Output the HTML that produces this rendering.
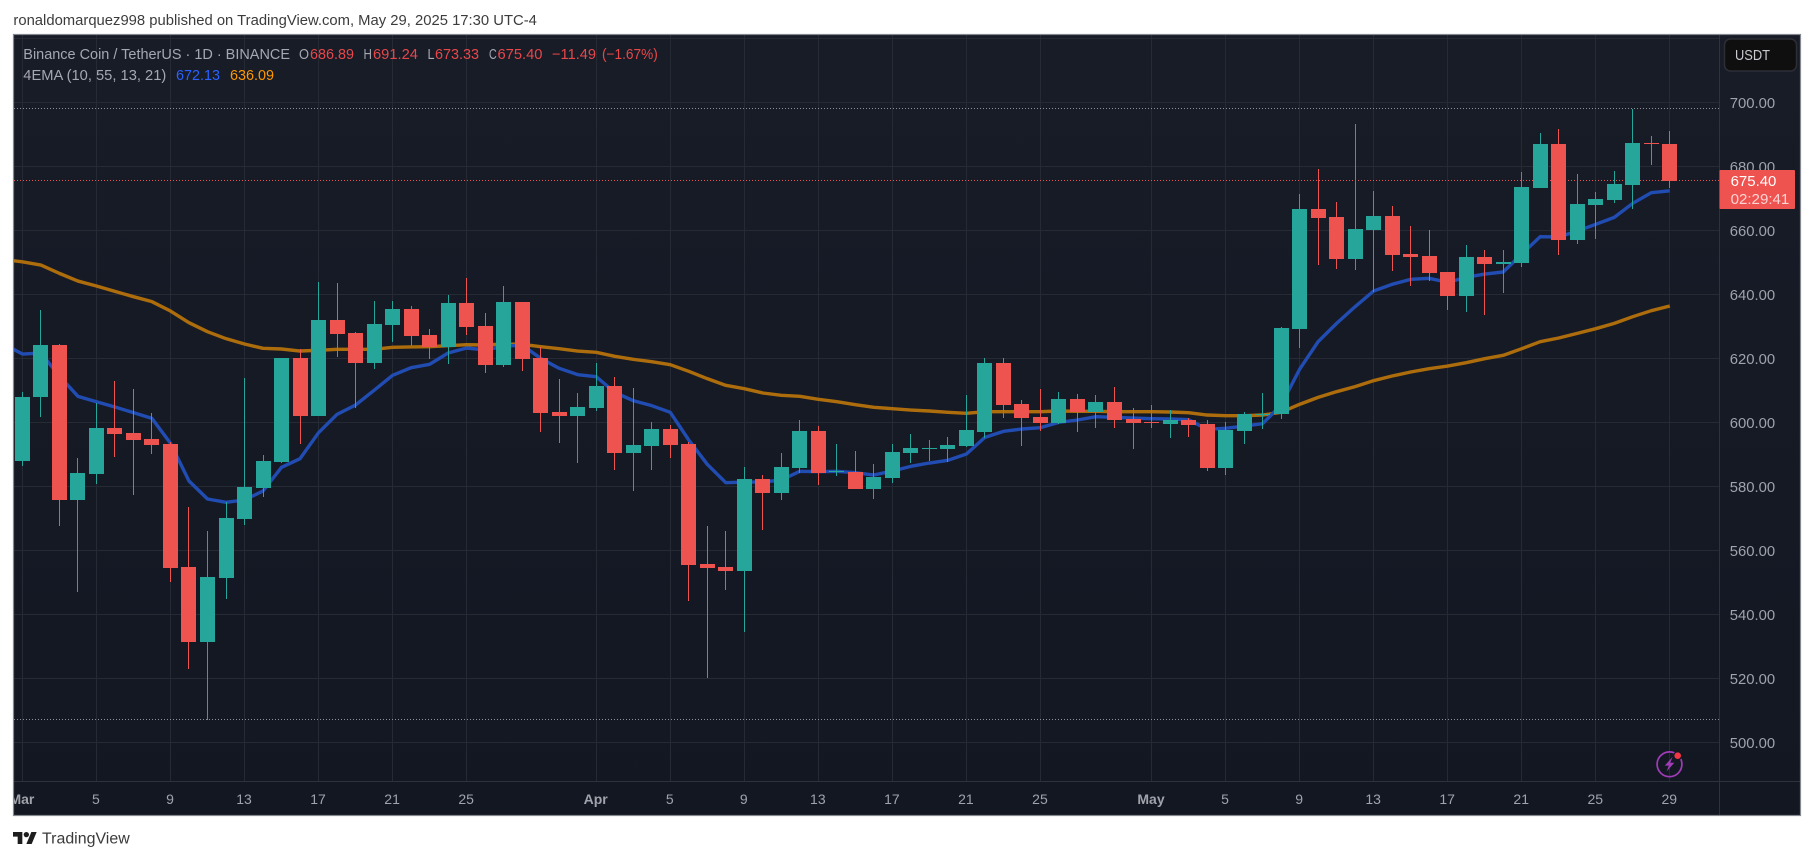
<!DOCTYPE html>
<html lang="en">
<head>
<meta charset="utf-8">
<title>BNB / USDT 1D chart</title>
<style>
html,body{margin:0;padding:0;background:#fff;width:1814px;height:860px;overflow:hidden}
svg{display:block;font-family:"Liberation Sans",Arial,sans-serif}
</style>
</head>
<body>
<svg id="chart" width="1814" height="860" viewBox="0 0 1814 860" xmlns="http://www.w3.org/2000/svg">
  <defs>
    <linearGradient id="panelFill" x1="0" y1="0" x2="0" y2="1">
      <stop offset="0" stop-color="#181c27"/>
      <stop offset="1" stop-color="#131722"/>
    </linearGradient>
    <clipPath id="plotClip"><rect x="14" y="35" width="1705" height="746"/></clipPath>
    <clipPath id="timeClip"><rect x="14" y="782" width="1705" height="33"/></clipPath>
  </defs>

  <text x="13.4" y="25" font-size="14.5" fill="#3c3c3c" textLength="523.5" lengthAdjust="spacingAndGlyphs">ronaldomarquez998 published on TradingView.com, May 29, 2025 17:30 UTC-4</text>

  <rect x="13.5" y="34.5" width="1787" height="781" fill="url(#panelFill)"/>

  <g id="grid"></g>
  <g id="plot" clip-path="url(#plotClip)">
    <g id="refLines"></g>
    <path id="emaSlow" fill="none" stroke="#ad6d0c" stroke-width="3.4" stroke-linejoin="round"/>
    <path id="emaFast" fill="none" stroke="#214cb2" stroke-width="3.4" stroke-linejoin="round"/>
    <g id="candles" shape-rendering="crispEdges"></g>
  </g>

  <line x1="14" y1="781.5" x2="1800" y2="781.5" stroke="#2e323d"/>
  <line x1="1719.5" y1="35" x2="1719.5" y2="815" stroke="#2e323d"/>
  <g id="priceAxis"></g>
  <g id="timeAxis" clip-path="url(#timeClip)"></g>

  <g>
    <rect x="1724.5" y="39" width="72" height="32" rx="6" fill="#0f0f10" stroke="#2c2f36" stroke-width="1.5"/>
    <text x="1735" y="60" font-size="15" fill="#c9cbd1" textLength="35" lengthAdjust="spacingAndGlyphs">USDT</text>
  </g>

  <g id="priceTag">
    <rect id="priceTagBox" x="1719.5" y="170" width="75.5" height="39" rx="1" fill="#ef5350"/>
    <text id="priceTagValue" x="1730.6" y="186" font-size="14.5" fill="#ffffff" textLength="45.8" lengthAdjust="spacingAndGlyphs">675.40</text>
    <text x="1730.6" y="204" font-size="14.5" fill="#fbd5d4" textLength="58.7" lengthAdjust="spacingAndGlyphs">02:29:41</text>
  </g>

  <g font-size="14.5">
    <text x="23.3" y="59" fill="#a5a8b1" textLength="266.7" lengthAdjust="spacingAndGlyphs">Binance Coin / TetherUS · 1D · BINANCE</text>
    <text x="299" y="59" fill="#a5a8b1" textLength="10" lengthAdjust="spacingAndGlyphs">O</text>
    <text x="310" y="59" fill="#e8474a" textLength="44" lengthAdjust="spacingAndGlyphs">686.89</text>
    <text x="363.5" y="59" fill="#a5a8b1" textLength="8.4" lengthAdjust="spacingAndGlyphs">H</text>
    <text x="373" y="59" fill="#e8474a" textLength="45" lengthAdjust="spacingAndGlyphs">691.24</text>
    <text x="427.5" y="59" fill="#a5a8b1" textLength="7" lengthAdjust="spacingAndGlyphs">L</text>
    <text x="435" y="59" fill="#e8474a" textLength="44" lengthAdjust="spacingAndGlyphs">673.33</text>
    <text x="489" y="59" fill="#a5a8b1" textLength="7.7" lengthAdjust="spacingAndGlyphs">C</text>
    <text x="497.5" y="59" fill="#e8474a" textLength="45" lengthAdjust="spacingAndGlyphs">675.40</text>
    <text x="552" y="59" fill="#e8474a" textLength="44" lengthAdjust="spacingAndGlyphs">−11.49</text>
    <text x="602" y="59" fill="#e8474a" textLength="55.8" lengthAdjust="spacingAndGlyphs">(−1.67%)</text>
    <text x="23.3" y="80" fill="#a5a8b1" textLength="143" lengthAdjust="spacingAndGlyphs">4EMA (10, 55, 13, 21)</text>
    <text x="176" y="80" fill="#2962ff" textLength="44" lengthAdjust="spacingAndGlyphs">672.13</text>
    <text x="230" y="80" fill="#ff9800" textLength="44" lengthAdjust="spacingAndGlyphs">636.09</text>
  </g>

  <g>
    <circle cx="1669.5" cy="764.3" r="12.4" fill="none" stroke="#a03cb8" stroke-width="1.7"/>
    <path d="M1672.5 757 L1664.8 765.6 L1668.8 765.6 L1666.6 771.5 L1674.3 762.8 L1670.3 762.8 Z" fill="#a03cb8"/>
    <circle cx="1677.7" cy="755.7" r="4.6" fill="#131722"/>
    <circle cx="1677.7" cy="755.7" r="3.3" fill="#f23645"/>
  </g>

  <rect x="13.5" y="34.5" width="1787" height="781" fill="none" stroke="#85888f" stroke-width="1.2"/>

  <g>
    <g transform="translate(13 829.3) scale(.667)" fill="#1e1e1e">
      <path d="M14 22H7V11H0V4h14v18zM28 22h-8l7.5-18h8L28 22z"/>
      <circle cx="20" cy="8" r="4"/>
    </g>
    <text x="42" y="843.3" font-size="15.5" fill="#3a3a3a" textLength="87.7" lengthAdjust="spacingAndGlyphs">TradingView</text>
  </g>
</svg>

<script>
const dates = [
"Mar 1","Mar 2","Mar 3","Mar 4","Mar 5","Mar 6","Mar 7","Mar 8","Mar 9","Mar 10",
"Mar 11","Mar 12","Mar 13","Mar 14","Mar 15","Mar 16","Mar 17","Mar 18","Mar 19","Mar 20",
"Mar 21","Mar 22","Mar 23","Mar 24","Mar 25","Mar 26","Mar 27","Mar 28","Mar 29","Mar 30",
"Mar 31","Apr 1","Apr 2","Apr 3","Apr 4","Apr 5","Apr 6","Apr 7","Apr 8","Apr 9",
"Apr 10","Apr 11","Apr 12","Apr 13","Apr 14","Apr 15","Apr 16","Apr 17","Apr 18","Apr 19",
"Apr 20","Apr 21","Apr 22","Apr 23","Apr 24","Apr 25","Apr 26","Apr 27","Apr 28","Apr 29",
"Apr 30","May 1","May 2","May 3","May 4","May 5","May 6","May 7","May 8","May 9",
"May 10","May 11","May 12","May 13","May 14","May 15","May 16","May 17","May 18","May 19",
"May 20","May 21","May 22","May 23","May 24","May 25","May 26","May 27","May 28","May 29"
];
const opens = [
587.97,607.97,624.22,575.88,584.01,598.28,596.70,594.84,593.28,554.84,
531.50,551.50,569.84,579.53,587.66,620.15,602.13,632.03,627.97,618.70,
630.57,635.47,627.34,623.70,637.34,630.15,618.07,637.66,620.15,603.28,
602.13,604.53,611.40,590.57,592.76,597.97,593.28,555.78,554.84,553.59,
582.34,577.97,585.78,597.34,584.53,584.53,579.22,582.66,590.47,591.70,
591.70,592.66,597.03,618.59,605.78,601.72,599.84,607.34,603.28,606.41,
601.09,600.16,599.53,600.78,599.53,585.88,597.34,602.30,602.65,629.21,
666.72,664.22,651.09,660.16,664.53,652.65,652.03,647.03,639.63,651.72,
649.53,649.84,673.28,687.03,657.03,667.97,669.53,674.22,687.34,686.89
];
const closes = [
607.97,624.22,575.88,584.22,598.28,596.51,594.63,593.07,554.63,531.50,
551.71,570.15,579.84,587.97,620.15,602.13,632.03,627.76,618.70,630.78,
635.47,627.13,623.70,637.34,629.95,618.07,637.66,619.95,603.07,602.13,
604.84,611.40,590.57,592.97,597.97,593.07,555.47,554.53,553.59,582.34,
577.97,586.09,597.34,584.22,584.84,579.22,582.97,590.78,592.03,592.03,
592.97,597.66,618.59,605.47,601.40,599.84,607.34,603.28,606.41,600.78,
599.84,599.84,600.78,599.22,585.88,597.65,602.65,602.65,629.52,666.72,
663.91,651.09,660.47,664.53,652.34,651.72,646.72,639.63,651.72,649.53,
650.16,673.59,687.03,657.03,668.28,669.84,674.53,687.34,687.03,675.40
];
const highs = [
609.53,635.16,624.50,588.90,605.99,612.97,610.47,602.86,593.90,573.59,
566.09,575.15,613.90,589.84,620.30,622.86,643.90,643.59,628.28,637.97,
637.97,636.41,629.22,639.84,645.26,634.22,642.66,637.66,623.70,613.59,
609.22,618.59,614.22,610.78,600.16,599.22,593.90,567.66,566.09,586.09,
583.59,590.47,600.78,598.90,593.28,591.09,587.03,593.28,596.41,594.53,
595.47,608.59,620.15,620.15,607.03,610.47,609.53,608.90,608.59,611.09,
604.53,605.47,603.90,601.40,600.77,600.15,603.28,609.20,629.80,671.41,
679.22,668.91,693.28,672.34,667.66,661.41,660.16,647.10,655.47,653.91,
653.91,678.28,690.47,691.72,677.66,672.03,678.59,697.86,689.53,691.24
];
const lows = [
586.51,601.80,567.76,547.13,580.88,589.33,577.45,590.26,550.25,523.07,
507.00,544.94,567.97,576.72,587.50,593.38,602.00,620.47,604.63,616.82,
625.16,624.01,619.84,618.38,627.45,615.57,617.45,616.20,597.13,593.70,
587.45,603.50,585.16,578.70,585.16,589.01,544.21,520.25,547.65,534.53,
566.51,575.78,584.22,580.47,583.28,579.10,576.09,581.09,587.34,587.97,
587.66,592.50,595.16,601.40,592.66,597.34,599.53,597.03,598.28,598.28,
591.72,598.28,595.16,595.47,584.84,583.59,593.27,597.95,601.09,623.28,
649.22,647.97,647.66,640.90,647.34,642.66,644.22,635.15,634.52,633.59,
640.57,648.59,673.20,652.34,655.78,657.34,668.59,666.72,680.47,673.33
];
const emaFast = [
621.40,621.70,614.50,608.18,606.50,604.84,603.07,601.30,593.50,581.72,
576.09,575.05,575.78,578.59,585.99,588.70,596.82,602.55,605.47,610.05,
614.74,617.13,618.18,621.72,623.28,622.66,623.80,624.20,620.05,616.93,
614.95,614.32,609.42,606.82,605.26,603.18,594.53,586.93,581.20,581.40,
581.40,582.03,584.74,584.64,584.74,584.32,583.59,584.84,586.30,587.34,
588.18,590.16,595.36,597.24,597.97,598.39,600.05,600.78,601.82,601.61,
601.40,601.20,601.09,600.88,597.86,598.17,598.90,599.63,605.46,616.61,
625.25,630.98,636.20,641.09,643.18,644.74,645.05,643.80,645.36,646.40,
647.03,652.65,658.07,657.97,659.84,661.93,664.11,668.49,671.82,672.40
];
const emaSlow = [
650.20,649.20,646.60,644.20,642.66,640.99,639.32,637.76,634.84,631.20,
628.38,626.20,624.53,623.18,622.97,622.34,622.55,622.86,622.86,622.86,
623.49,623.60,623.70,624.00,624.32,624.22,624.53,624.43,623.70,623.07,
622.34,621.93,620.68,619.74,619.01,618.07,615.99,613.70,611.61,610.57,
609.22,608.49,608.18,607.24,606.51,605.57,604.74,604.32,603.90,603.59,
603.18,602.86,603.38,603.38,603.38,603.38,603.59,603.49,603.49,603.38,
603.38,603.38,603.28,603.07,602.34,602.13,602.13,602.34,603.17,605.67,
607.86,609.63,611.20,613.07,614.53,615.78,616.82,617.65,618.69,619.94,
620.98,623.07,625.25,626.40,627.86,629.32,630.98,633.07,634.94,636.40
];
const emaFastPrior = 624.5;
const emaSlowPrior = 650.9;
const priceTicks = [720,700,680,660,640,620,600,580,560,540,520,500];
const labelledPriceTicks = [700,680,660,640,620,600,580,560,540,520,500];
const timeTickDates = ["Mar 1","Mar 5","Mar 9","Mar 13","Mar 17","Mar 21","Mar 25","Apr 1","Apr 5","Apr 9","Apr 13","Apr 17","Apr 21","Apr 25","May 1","May 5","May 9","May 13","May 17","May 21","May 25","May 29"];
const timeTickLabels = ["Mar","5","9","13","17","21","25","Apr","5","9","13","17","21","25","May","5","9","13","17","21","25","29"];

const NS = "http://www.w3.org/2000/svg";
function xAt(index){ return 22.4 + 18.51 * index; }
function xOf(date){ return xAt(dates.indexOf(date)); }
function yOf(price){ return 742.5 - (price - 500) * 3.2; }
function make(tag, parent){ const el = document.createElementNS(NS, tag); parent.appendChild(el); return el; }

const gridGroup = document.getElementById("grid");
priceTicks.forEach(function(p){
  const line = make("line", gridGroup);
  
  
  const gy = Math.floor(yOf(p)) + 0.5;
  line.setAttribute("x1", 14); line.setAttribute("x2", 1719);
  line.setAttribute("y1", gy); line.setAttribute("y2", gy);
  line.setAttribute("stroke", "#262a35");
});
timeTickDates.forEach(function(d){
  const line = make("line", gridGroup);
  
  
  const gx = Math.floor(xOf(d)) + 0.5;
  line.setAttribute("x1", gx); line.setAttribute("x2", gx);
  line.setAttribute("y1", 35); line.setAttribute("y2", 781);
  line.setAttribute("stroke", "#262a35");
});

const priceAxis = document.getElementById("priceAxis");
labelledPriceTicks.forEach(function(p){
  const t = make("text", priceAxis);
  
  
  t.setAttribute("x", 1729.8);
  t.setAttribute("y", Math.round(yOf(p)) + 5);
  t.setAttribute("font-size", "14.5");
  t.setAttribute("fill", "#a0a3ab");
  t.setAttribute("textLength", "45.4");
  t.setAttribute("lengthAdjust", "spacingAndGlyphs");
  t.textContent = p.toFixed(2);
});

const timeAxis = document.getElementById("timeAxis");
timeTickDates.forEach(function(d, k){
  const t = make("text", timeAxis);
  
  
  const isMonth = isNaN(Number(timeTickLabels[k]));
  t.setAttribute("x", xOf(d) - 0.5);
  t.setAttribute("y", 804);
  t.setAttribute("text-anchor", "middle");
  t.setAttribute("font-size", "14");
  t.setAttribute("fill", "#a0a3ab");
  if (isMonth) t.setAttribute("font-weight", "700");
  t.textContent = timeTickLabels[k];
});

function linePath(values, prior){
  let d = "M" + xAt(-1) + " " + yOf(prior).toFixed(2);
  values.forEach(function(v, i){ d += " L" + xAt(i).toFixed(2) + " " + yOf(v).toFixed(2); });
  return d;
}
document.getElementById("emaSlow").setAttribute("d", linePath(emaSlow, emaSlowPrior));
document.getElementById("emaFast").setAttribute("d", linePath(emaFast, emaFastPrior));

const candleGroup = document.getElementById("candles");
dates.forEach(function(d, i){
  const up = closes[i] >= opens[i];
  const color = up ? "#26a69a" : "#ef5350";
  const left = Math.round(xAt(i) - 7.5);
  const g = make("g", candleGroup);
  
  
  const wick = make("rect", g);
  
  
  const wTop = Math.round(yOf(highs[i]));
  const wBot = Math.round(yOf(lows[i]));
  wick.setAttribute("x", left + 7);
  wick.setAttribute("y", wTop);
  wick.setAttribute("width", 1);
  wick.setAttribute("height", Math.max(1, wBot - wTop));
  wick.setAttribute("fill", color);
  const body = make("rect", g);
  
  
  const bTop = Math.round(yOf(Math.max(opens[i], closes[i])));
  const bBot = Math.round(yOf(Math.min(opens[i], closes[i])));
  body.setAttribute("x", left);
  body.setAttribute("y", bTop);
  body.setAttribute("width", 15);
  body.setAttribute("height", Math.max(1, bBot - bTop));
  body.setAttribute("fill", color);
});

const refLines = document.getElementById("refLines");
function refLine(price, color){
  const line = make("line", refLines);
  const ry = Math.floor(yOf(price) - 0.4) + 0.5;
  line.setAttribute("x1", 14); line.setAttribute("x2", 1719);
  line.setAttribute("y1", ry); line.setAttribute("y2", ry);
  line.setAttribute("stroke", color);
  line.setAttribute("stroke-dasharray", "1 2");
  return line;
}
const highLine = refLine(Math.max.apply(null, highs), "#8f929a");


const lowLine = refLine(Math.min.apply(null, lows), "#8f929a");


const lastLine = refLine(closes[closes.length - 1], "#ef5350");


</script>
</body>
</html>
